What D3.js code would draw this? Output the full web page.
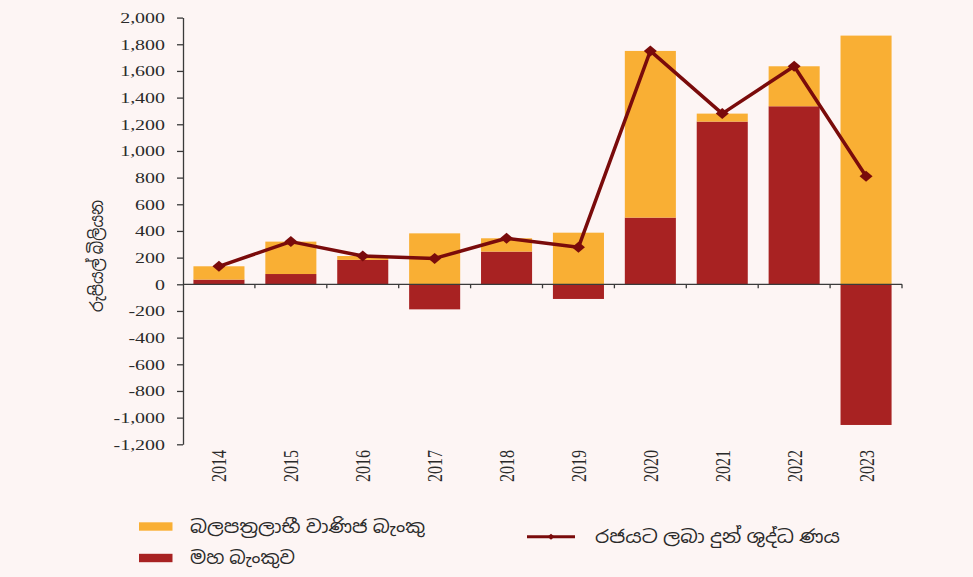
<!DOCTYPE html>
<html>
<head>
<meta charset="utf-8">
<script src="https://cdn.jsdelivr.net/npm/d3@7"></script>
<style>
  html, body { margin: 0; padding: 0; background: #FDF5F4; }
  svg { display: block; }
</style>
</head>
<body>
<svg id="chart" width="973" height="577"></svg>
<script>
// ---- data ----
const years = ["2014","2015","2016","2017","2018","2019","2020","2021","2022","2023"];
const centralBank = [35, 77, 183, -188, 245, -110, 500, 1220, 1335, -1055];
const commercialBanks = [100, 243, 29, 382, 100, 387, 1250, 60, 300, 1865];
const netCreditToGov = [135, 320, 212, 194, 345, 277, 1750, 1280, 1635, 810];
const yTicks = [-1200,-1000,-800,-600,-400,-200,0,200,400,600,800,1000,1200,1400,1600,1800,2000];
const seriesNames = ["බලපත්‍රලාභී වාණිජ බැංකු", "මහ බැංකුව"];
const lineName = "රජයට ලබා දුන් ශුද්ධ ණය";
const yTitle = "රුපියල් බිලියන";

const colors = { commercial: "#F9AF34", central: "#A82222", line: "#7A0B0B", axis: "#3a3a3a", text: "#2a2a2a" };
const SX = 1.33; // horizontal stretch of the text in the original

const svg = d3.select("#chart");

const x = d3.scaleBand().domain(years).range([183, 902]).paddingInner(0.29).paddingOuter(0.145);
const y = d3.scaleLinear().domain([-1200, 2000]).range([444.3, 17.6]);

const rows = years.map((yr, i) => ({ year: yr, central: centralBank[i], commercial: commercialBanks[i] }));
const stack = d3.stack().keys(["central", "commercial"]).offset(d3.stackOffsetDiverging);
const stacked = stack(rows);
const fillFor = { central: colors.central, commercial: colors.commercial };

svg.append("g").selectAll("g").data(stacked).join("g")
  .attr("fill", d => fillFor[d.key])
  .selectAll("rect").data(d => d).join("rect")
  .attr("x", d => x(d.data.year))
  .attr("width", x.bandwidth())
  .attr("y", d => y(Math.max(d[0], d[1])))
  .attr("height", d => Math.abs(y(d[0]) - y(d[1])));

// y axis
const fmt = v => d3.format(",")(v).replace("−", "-");
const yAxis = d3.axisLeft(y).tickValues(yTicks).tickSize(6).tickSizeOuter(0).tickFormat("");
const yg = svg.append("g").attr("transform", "translate(183,0)").call(yAxis);
yg.select(".domain").attr("stroke", colors.axis).attr("stroke-width", 1.3);
yg.selectAll(".tick line").attr("stroke", colors.axis).attr("stroke-width", 1.3);

svg.append("g").selectAll("text").data(yTicks).join("text")
  .attr("transform", d => `translate(165,${y(d)}) scale(${SX},1)`)
  .attr("text-anchor", "end")
  .attr("dy", "0.35em")
  .attr("font-family", "'Liberation Serif', serif")
  .attr("font-size", 15)
  .attr("fill", colors.text)
  .text(fmt);

// x axis at zero
const x0 = x.range()[0], x1 = x.range()[1];
const bounds = d3.range(1, years.length + 1).map(i => x0 + i * x.step());
const xg = svg.append("g");
xg.append("line").attr("x1", x0).attr("x2", x1).attr("y1", y(0)).attr("y2", y(0))
  .attr("stroke", colors.axis).attr("stroke-width", 1.3);
xg.selectAll("line.t").data(bounds).join("line").attr("class", "t")
  .attr("x1", d => d).attr("x2", d => d).attr("y1", y(0)).attr("y2", y(0) + 4)
  .attr("stroke", colors.axis).attr("stroke-width", 1.3);

// x labels
svg.append("g").selectAll("text").data(years).join("text")
  .attr("transform", d => `translate(${x(d) + x.bandwidth() / 2},450) scale(${SX},1) rotate(-90)`)
  .attr("text-anchor", "end")
  .attr("dy", "0.35em")
  .attr("font-family", "'Liberation Serif', serif")
  .attr("font-size", 16)
  .attr("fill", colors.text)
  .text(d => d);

// line
const cx = d => x(d) + x.bandwidth() / 2;
const line = d3.line().x((d, i) => cx(years[i])).y(d => y(d));
svg.append("path").datum(netCreditToGov)
  .attr("d", line).attr("fill", "none")
  .attr("stroke", colors.line).attr("stroke-width", 3.5).attr("stroke-linejoin", "round");
const diamond = (w, h) => `M0,${-h} L${w},0 L0,${h} L${-w},0 Z`;
svg.append("g").selectAll("path").data(netCreditToGov).join("path")
  .attr("transform", (d, i) => `translate(${cx(years[i])},${y(d)})`)
  .attr("d", diamond(6.5, 5.5))
  .attr("fill", colors.line);

// y title
svg.append("text")
  .attr("transform", `translate(97,256) rotate(-90)`)
  .attr("text-anchor", "middle")
  .attr("dy", "0.35em")
  .attr("font-family", "'Noto Sans', 'Noto Sans Sinhala', sans-serif")
  .attr("font-size", 18)
  .attr("textLength", 112).attr("lengthAdjust", "spacingAndGlyphs")
  .attr("fill", colors.text)
  .text(yTitle);

// legend
const leg = svg.append("g").attr("font-family", "'Noto Sans', 'Noto Sans Sinhala', sans-serif").attr("font-size", 18).attr("fill", colors.text);
const legItems = [
  { name: seriesNames[0], color: colors.commercial, y: 526.5, len: 235 },
  { name: seriesNames[1], color: colors.central, y: 558, len: 105 }
];
legItems.forEach(it => {
  leg.append("rect").attr("x", 139).attr("y", it.y - 4.2).attr("width", 33.5).attr("height", 8.4).attr("fill", it.color);
  leg.append("text").attr("x", 190).attr("y", it.y).attr("dy", "0.35em")
    .attr("textLength", it.len).attr("lengthAdjust", "spacingAndGlyphs").text(it.name);
});
leg.append("line").attr("x1", 527).attr("x2", 575).attr("y1", 536.7).attr("y2", 536.7)
  .attr("stroke", colors.line).attr("stroke-width", 3);
leg.append("path").attr("transform", "translate(551,536.7)").attr("d", diamond(3.5, 3)).attr("fill", colors.line);
leg.append("text").attr("x", 595).attr("y", 536.7).attr("dy", "0.35em")
  .attr("textLength", 245).attr("lengthAdjust", "spacingAndGlyphs").text(lineName);
</script>
</body>
</html>
